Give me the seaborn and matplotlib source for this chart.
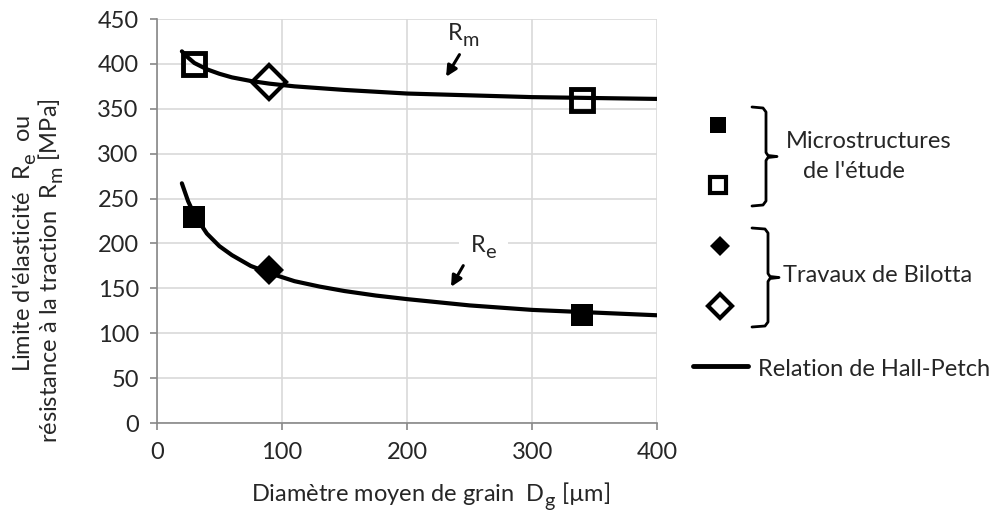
import numpy as np
import pandas as pd
import seaborn as sns
import matplotlib.pyplot as plt
import matplotlib._mathtext as mt
from matplotlib.lines import Line2D

# grain diameter (um)
d_curve = [20, 25, 30, 40, 50, 60, 75, 90, 110, 130, 150, 175, 200, 250, 300, 350, 400]
re_curve = [267, 247, 232, 211, 197, 187, 175, 167, 158, 152, 147, 142, 138, 131, 126, 123, 120]
rm_curve = [414, 407, 401, 394, 389, 385, 381, 378, 375, 373, 371, 369, 367, 365, 363, 362, 361]

# measured points
d_etude = [30, 340]
re_etude = [230, 120]
rm_etude = [400, 360]
d_bilotta = [90]
re_bilotta = [170]
rm_bilotta = [380]

sns.set_style("white")
plt.rcParams['font.family'] = ['Lato', 'DejaVu Sans']
plt.rcParams['mathtext.fontset'] = 'custom'
plt.rcParams['mathtext.rm'] = 'Lato'
plt.rcParams['mathtext.default'] = 'regular'
# bigger, lower subscripts (closer to the original figure)
mt.SHRINK_FACTOR = 0.85
mt.FontConstantsBase.sub1 = 0.5
mt.FontConstantsBase.subdrop = 0.6
fs = 17

fig = plt.figure(figsize=(9.99, 5.14), dpi=100)
ax = fig.add_axes([0.157, 0.177, 0.501, 0.786])

curves = pd.DataFrame({'d': d_curve, 're': re_curve, 'rm': rm_curve})
sns.lineplot(data=curves, x='d', y='re', color='black', lw=3, ax=ax, zorder=4)
sns.lineplot(data=curves, x='d', y='rm', color='black', lw=3, ax=ax, zorder=4)

ax.plot(d_etude, re_etude, 's', ms=16, color='black', mew=0, zorder=5)
ax.plot(d_etude, rm_etude, 's', ms=16, mfc='none', mec='black', mew=3.5, zorder=5)
ax.plot(d_bilotta, re_bilotta, 'D', ms=15, color='black', mew=0, zorder=5)
ax.plot(d_bilotta, rm_bilotta, 'D', ms=17, mfc='none', mec='black', mew=3, zorder=5)

ax.set_xlim(0, 400)
ax.set_ylim(0, 450)
ax.set_xticks(range(0, 401, 100))
ax.set_yticks(range(0, 451, 50))
ax.grid(True, color='#d9d9d9', lw=1.2)
ax.set_axisbelow(True)
for s in ['top', 'right']:
    ax.spines[s].set_visible(False)
for s in ['left', 'bottom']:
    ax.spines[s].set_color('#888888')
    ax.spines[s].set_linewidth(1.2)
ax.tick_params(axis='both', which='both', direction='out', length=5, width=1.2,
               color='#888888', labelsize=fs, left=True, bottom=True)
ax.tick_params(axis='x', pad=9)
ax.tick_params(axis='y', pad=8)
ax.set_xlabel('')
ax.set_ylabel('')

# curve labels
ax.text(232, 433, 'R$_m$', fontsize=fs, ha='left', va='center')
ax.annotate('', xy=(230, 383), xytext=(243, 413),
            arrowprops=dict(arrowstyle='-|>', color='black', lw=2.2, mutation_scale=16))
ax.text(250, 197, 'R$_e$', fontsize=fs, ha='left', va='center',
        bbox=dict(facecolor='white', edgecolor='none', pad=8))
ax.annotate('', xy=(234, 149), xytext=(246, 178),
            arrowprops=dict(arrowstyle='-|>', color='black', lw=2.2, mutation_scale=16))

# axis titles
fig.text(431 / 999, 1 - 496 / 514, 'Diamètre moyen de grain  D$_g$ [µm]',
         fontsize=fs, ha='center', va='center')
fig.text(25 / 999, 1 - 243 / 514, "Limite d'élasticité  R$_e$  ou",
         fontsize=fs, ha='center', va='center', rotation=90)
fig.text(51 / 999, 1 - 271 / 514, 'résistance à la traction  R$_m$ [MPa]',
         fontsize=fs, ha='center', va='center', rotation=90)

# custom legend on the right (pixel coordinates)
lg = fig.add_axes([0, 0, 1, 1])
lg.set_xlim(0, 999)
lg.set_ylim(514, 0)
lg.axis('off')
lg.patch.set_alpha(0)
lg.plot([718], [125], 's', ms=12, color='black', mew=0)
lg.plot([718], [185], 's', ms=12, mfc='white', mec='black', mew=3)
lg.plot([720], [246], 'D', ms=10, color='black', mew=0)
lg.plot([720], [306], 'D', ms=12, mfc='white', mec='black', mew=3)
lg.add_line(Line2D([693, 748], [366, 366], color='black', lw=3.5))


def bracket(y0, y1, x0=752, x1=766, x2=777):
    ym = (y0 + y1) / 2
    xs = [x0, x1 - 3, x1, x1, x1 + 2, x2, x1 + 2, x1, x1, x1 - 3, x0]
    ys = [y0, y0 + 1, y0 + 5, ym - 4, ym - 1, ym, ym + 1, ym + 4, y1 - 5, y1 - 1, y1]
    lg.add_line(Line2D(xs, ys, color='black', lw=2))


bracket(107, 206)
bracket(228, 327, x0=752, x1=768, x2=779)
lg.text(786, 142, 'Microstructures', fontsize=fs, ha='left', va='center')
lg.text(803, 172, "de l'étude", fontsize=fs, ha='left', va='center')
lg.text(783, 275, 'Travaux de Bilotta', fontsize=fs, ha='left', va='center')
lg.text(758, 369, 'Relation de Hall-Petch', fontsize=fs, ha='left', va='center')

fig.savefig('out.png', dpi=100)
